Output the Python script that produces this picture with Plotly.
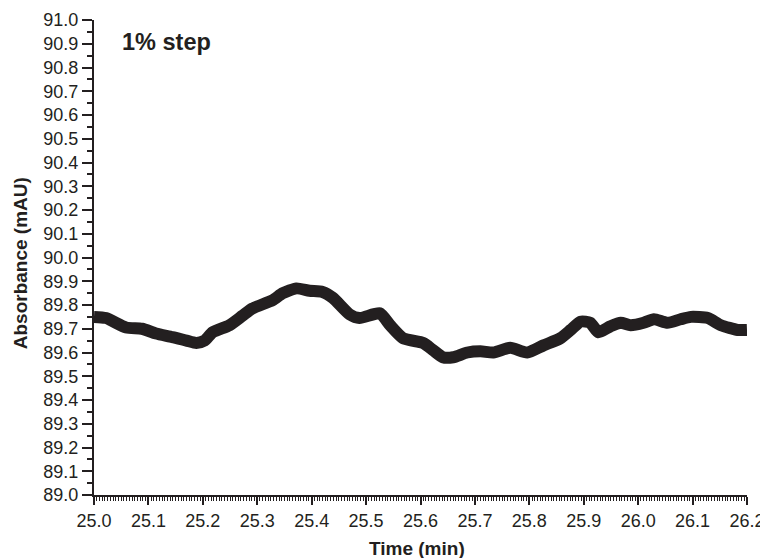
import plotly.graph_objects as go

time_min = [25.000, 25.022, 25.059, 25.088, 25.114, 25.144, 25.170, 25.188, 25.203, 25.218,
            25.249, 25.273, 25.291, 25.328, 25.347, 25.372, 25.396, 25.420, 25.439, 25.470,
            25.488, 25.525, 25.544, 25.568, 25.605, 25.623, 25.641, 25.660, 25.686, 25.710,
            25.734, 25.765, 25.796, 25.826, 25.857, 25.876, 25.894, 25.912, 25.927, 25.949,
            25.968, 25.986, 26.010, 26.029, 26.054, 26.078, 26.097, 26.128, 26.152, 26.183,
            26.200]
absorbance = [89.750, 89.745, 89.705, 89.700, 89.680, 89.665, 89.650, 89.640, 89.650, 89.685,
              89.715, 89.755, 89.785, 89.820, 89.850, 89.870, 89.860, 89.855, 89.830, 89.760,
              89.745, 89.765, 89.715, 89.660, 89.640, 89.610, 89.580, 89.580, 89.600, 89.605,
              89.600, 89.620, 89.600, 89.630, 89.660, 89.695, 89.730, 89.725, 89.685, 89.710,
              89.725, 89.715, 89.725, 89.740, 89.725, 89.740, 89.750, 89.745, 89.715, 89.695,
              89.695]

x_ticks = [25.0, 25.1, 25.2, 25.3, 25.4, 25.5, 25.6, 25.7, 25.8, 25.9, 26.0, 26.1, 26.2]
y_ticks = [89.0 + 0.1 * i for i in range(21)]

ink = "#231f20"
FONT = "Liberation Sans, Arial, sans-serif"

fig = go.Figure()
fig.add_trace(go.Scatter(
    x=time_min, y=absorbance, mode="lines",
    line=dict(color=ink, width=12, shape="spline", smoothing=0.6),
    showlegend=False,
))

fig.update_layout(
    width=760, height=550,
    margin=dict(l=86, r=21, t=12, b=63),
    paper_bgcolor="white", plot_bgcolor="white",
    font=dict(family=FONT, color=ink, size=18),
    annotations=[
        dict(text="<b>1% step</b>", x=0.0398, y=0.9537, xref="paper", yref="paper",
             xanchor="left", yanchor="middle", showarrow=False,
             font=dict(size=23.5, color=ink, family=FONT)),
        dict(text="<b>Time (min)</b>", x=0.4946, y=-0.1116, xref="paper", yref="paper",
             xanchor="center", yanchor="middle", showarrow=False,
             font=dict(size=19, color=ink, family=FONT)),
        dict(text="<b>Absorbance (mAU)</b>", x=-0.1133, y=0.488, xref="paper", yref="paper",
             xanchor="center", yanchor="middle", textangle=-90, showarrow=False,
             font=dict(size=19, color=ink, family=FONT)),
    ],
)

fig.update_xaxes(
    range=[25.0, 26.2], tickvals=x_ticks, ticktext=[f"{v:.1f}" for v in x_ticks],
    ticks="outside", ticklen=8, tickwidth=2, tickcolor=ink,
    showline=True, linecolor=ink, linewidth=2, showgrid=False, zeroline=False,
    tickfont=dict(size=18), automargin=False,
    minor=dict(dtick=0.005, ticks="outside", ticklen=4, tickwidth=1, tickcolor=ink, showgrid=False),
)
fig.update_yaxes(
    range=[89.0, 91.0], tickvals=y_ticks, ticktext=[f"{v:.1f}" for v in y_ticks],
    ticks="outside", ticklen=10, tickwidth=2, tickcolor=ink,
    showline=True, linecolor=ink, linewidth=2, showgrid=False, zeroline=False,
    tickfont=dict(size=18), automargin=False,
    minor=dict(dtick=0.05, ticks="outside", ticklen=5, tickwidth=1.5, tickcolor=ink, showgrid=False),
)

fig.write_html("out.html")
